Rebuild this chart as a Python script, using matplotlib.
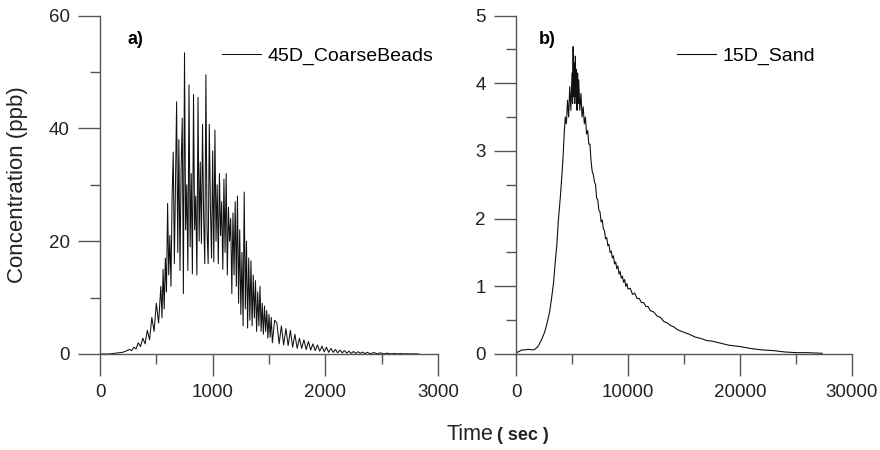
import numpy as np
import matplotlib
matplotlib.use("Agg")
import matplotlib.pyplot as plt
from matplotlib.ticker import MultipleLocator

plt.rcParams['font.family'] = ['Liberation Sans', 'DejaVu Sans']

# panel a) 45D_CoarseBeads (sec, ppb)
time_a = [0, 80, 120, 160, 200, 230, 260, 280, 300, 320, 340, 360, 380, 400,
          420, 440, 460, 480, 500, 520,
          540, 550, 560, 570, 580, 590, 600, 610, 620, 630, 640, 650, 660, 670,
          680, 690, 700, 710, 720, 730, 740, 750, 760, 770, 780, 790, 800, 810,
          820, 830, 840, 850, 860, 870, 880, 890, 900, 910, 920, 930, 940, 950,
          960, 970, 980, 990, 1000, 1010, 1020, 1030, 1040, 1050, 1060, 1070,
          1080, 1090, 1100, 1110, 1120, 1130, 1140, 1150, 1160, 1170, 1180,
          1190, 1200, 1210, 1220, 1230, 1240, 1250, 1260, 1270, 1280, 1290,
          1300, 1310, 1320, 1330, 1340, 1350, 1360, 1370, 1380, 1390, 1400,
          1410, 1420, 1430, 1440, 1450, 1460, 1470, 1480, 1490, 1500, 1510,
          1520, 1530,
          1550, 1570, 1590, 1610, 1630, 1650, 1670, 1690, 1710, 1730, 1750,
          1770, 1790, 1810, 1830, 1850, 1870, 1890, 1910, 1930, 1950, 1970,
          1990, 2010, 2030, 2050, 2070, 2090, 2110, 2130, 2150, 2170, 2190,
          2210, 2230, 2250, 2270, 2290, 2310, 2330, 2350, 2370, 2400, 2430,
          2460, 2490, 2520, 2550, 2580, 2610, 2640, 2670, 2700, 2730, 2760,
          2790, 2830]
conc_a = [0, 0, 0.1, 0.2, 0.3, 0.5, 0.8, 0.6, 1.2, 0.9, 2.0, 1.3, 2.8, 1.8,
          4.2, 2.5, 6.5, 4.0, 9.0, 5.5,
          12.0, 6.4, 15, 8, 17, 11, 26.7, 14, 21, 12, 28, 35.8, 16, 30,
          44.7, 18, 38, 14.8, 33, 41.8, 10.7, 53.4, 22, 30, 14.8, 47.7, 19, 32,
          14.2, 46, 22, 28, 14, 45.5, 20, 34, 19.6, 40.7, 24, 16, 49.5, 22,
          16, 40.7, 26, 17, 36, 16.3, 39.7, 20, 30, 16, 32, 21,
          27, 15, 31, 18, 32, 14, 26, 20, 24, 10.7, 25,
          14, 27, 12, 28, 9, 22, 7, 18, 5, 28.7, 8,
          20, 4.6, 17, 6, 16.5, 5, 14, 6.4, 13, 4, 11,
          5, 12, 4, 9, 3.5, 8.5, 4, 7.7, 2.8, 7, 3,
          6.5, 2,
          6.0, 5.5, 1.8, 5.0, 1.6, 4.5, 1.5, 4.2, 1.2, 3.5, 1.0,
          2.8, 1.0, 2.5, 0.8, 2.2, 0.7, 1.8, 0.6, 1.6, 0.5, 1.4,
          0.4, 1.2, 0.3, 1.0, 0.3, 0.8, 0.2, 0.7, 0.2, 0.6, 0.15,
          0.5, 0.1, 0.45, 0.1, 0.4, 0.1, 0.35, 0.05, 0.3, 0.05, 0.25,
          0.05, 0.2, 0.03, 0.15, 0.02, 0.1, 0.02, 0.08, 0.01, 0.05, 0.01,
          0.03, 0.0]

# panel b) 15D_Sand
time_b = [0, 60, 300, 510, 800, 1100, 1520, 1700, 2000, 2300, 2550, 2750,
          3000, 3190, 3350, 3490, 3650, 3780, 3950, 4090, 4200,
          4300, 4400, 4500, 4600, 4700, 4800, 4900, 5000, 5050, 5100, 5150,
          5200, 5250, 5300, 5350, 5400, 5450, 5500, 5550, 5600, 5700, 5800,
          5900, 6000, 6100, 6200, 6300, 6400, 6500, 6600,
          6700, 6800, 6900, 7000, 7100, 7200, 7300, 7400, 7500, 7600, 7700,
          7800, 7900, 8000, 8100, 8200, 8300, 8400, 8500, 8600, 8700, 8800,
          8900, 9000, 9100, 9200, 9300, 9400, 9500, 9600, 9700, 9800, 9900,
          10000, 10200, 10400, 10600, 10800, 11000, 11200, 11400, 11600,
          11800, 12000, 12300, 12600, 12900, 13200, 13500, 13800, 14100,
          14400, 14700, 15000, 15500, 16000, 16500, 17000, 17500, 18000,
          18500, 19000, 19500, 20000, 21000, 22000, 23000, 24000, 25000,
          26000, 27340]
conc_b = [0.0, 0.02, 0.04, 0.06, 0.06, 0.07, 0.06, 0.07, 0.12, 0.22, 0.32,
          0.44, 0.62, 0.84, 1.05, 1.33, 1.62, 1.97, 2.3, 2.62, 2.9,
          3.25, 3.5, 3.4, 3.75, 3.5, 3.95, 3.6, 4.15, 3.7, 4.54, 3.8,
          4.3, 3.7, 4.4, 3.8, 4.2, 3.6, 4.15, 3.7, 4.05, 3.6, 3.85,
          3.5, 3.65, 3.4, 3.5, 3.25, 3.3, 3.1, 3.1,
          2.85, 2.7, 2.65, 2.55, 2.5, 2.3, 2.28, 2.12, 2.1, 1.95, 1.98,
          1.85, 1.82, 1.7, 1.72, 1.6, 1.62, 1.5, 1.52, 1.42, 1.45, 1.33,
          1.36, 1.26, 1.3, 1.18, 1.22, 1.12, 1.15, 1.06, 1.1, 1.0, 1.04,
          0.96, 0.97, 0.88, 0.9, 0.82, 0.82, 0.76, 0.76, 0.7,
          0.7, 0.64, 0.62, 0.56, 0.54, 0.48, 0.46, 0.42, 0.40,
          0.36, 0.34, 0.32, 0.29, 0.25, 0.23, 0.2, 0.19, 0.17,
          0.15, 0.13, 0.12, 0.11, 0.08, 0.06, 0.05, 0.03, 0.02,
          0.02, 0.01]

axis_col = '#555555'

fig = plt.figure(figsize=(8.8, 4.5), dpi=100)
ax_a = fig.add_axes([100 / 880, 96 / 450, 338 / 880, 338.5 / 450])
ax_b = fig.add_axes([516 / 880, 96 / 450, 336 / 880, 338.5 / 450])

ax_a.plot(time_a, conc_a, color='#111111', lw=0.75, label='45D_CoarseBeads')
ax_b.plot(time_b, conc_b, color='#111111', lw=0.8, label='15D_Sand')

ax_a.set_xlim(0, 3000)
ax_a.set_ylim(0, 60)
ax_a.xaxis.set_major_locator(MultipleLocator(1000))
ax_a.xaxis.set_minor_locator(MultipleLocator(500))
ax_a.yaxis.set_major_locator(MultipleLocator(20))
ax_a.yaxis.set_minor_locator(MultipleLocator(10))

ax_b.set_xlim(0, 30000)
ax_b.set_ylim(0, 5)
ax_b.xaxis.set_major_locator(MultipleLocator(10000))
ax_b.xaxis.set_minor_locator(MultipleLocator(5000))
ax_b.yaxis.set_major_locator(MultipleLocator(1))
ax_b.yaxis.set_minor_locator(MultipleLocator(0.5))

for ax in (ax_a, ax_b):
    for s in ('top', 'right'):
        ax.spines[s].set_visible(False)
    for s in ('left', 'bottom'):
        ax.spines[s].set_color(axis_col)
        ax.spines[s].set_linewidth(1.0)
    ax.tick_params(which='major', direction='out', length=15.8, width=1,
                   color=axis_col, labelsize=13.5, labelcolor='#222222', pad=6)
    ax.tick_params(which='minor', direction='out', length=7.2, width=1,
                   color=axis_col)
    ax.patch.set_visible(False)

ax_a.legend(loc='center left', bbox_to_anchor=(0.36, 0.88), frameon=False,
            fontsize=14, handlelength=2.0, handletextpad=0.35,
            borderpad=0, borderaxespad=0)
ax_b.legend(loc='center left', bbox_to_anchor=(0.48, 0.88), frameon=False,
            fontsize=14, handlelength=2.0, handletextpad=0.35,
            borderpad=0, borderaxespad=0)

fig.text(127 / 880, 1 - 40 / 450, 'a)', fontsize=13, fontweight='bold',
         va='center', ha='left')
fig.text(539 / 880, 1 - 40 / 450, 'b)', fontsize=13, fontweight='bold',
         va='center', ha='left')

fig.text(18 / 880, 1 - 185 / 450, 'Concentration (ppb)', rotation=90,
         fontsize=16, va='center', ha='center', color='#222222')
fig.text(493 / 880, 1 - 440 / 450, 'Time', fontsize=15.5, ha='right',
         va='baseline', color='#222222')
fig.text(497 / 880, 1 - 440 / 450, '( sec )', fontsize=13,
         fontweight='bold', ha='left', va='baseline', color='#222222')

fig.savefig('out.png', dpi=100)
